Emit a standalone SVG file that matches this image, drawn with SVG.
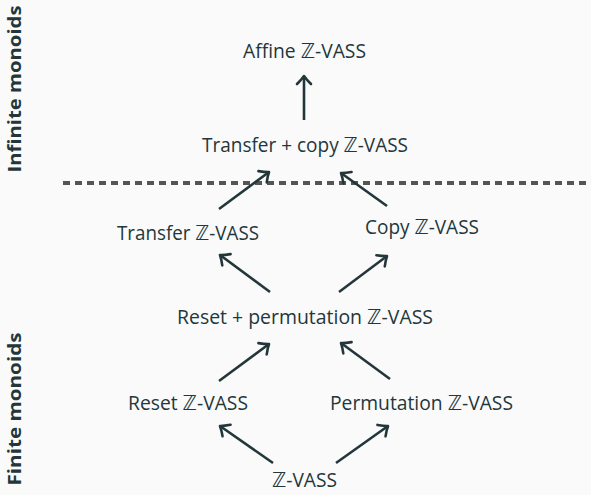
<svg xmlns="http://www.w3.org/2000/svg" width="591" height="495" viewBox="0 0 591 495">
  <defs>
    <marker id="head" markerUnits="userSpaceOnUse" markerWidth="20" markerHeight="20" refX="0" refY="0" viewBox="-12 -10 16 20" orient="auto">
      <path d="M-8,-7 Q-3,-2 0,0 Q-3,2 -8,7" fill="none" stroke="#23373b" stroke-width="2.6" stroke-linecap="round" stroke-linejoin="round"/>
    </marker>
    <style>
      .lbl { font-family: "Open Sans", "Liberation Sans", "DejaVu Sans", sans-serif; font-size: 20.5px; fill: #23373b; text-anchor: middle; }
      .side { font-family: "Open Sans", "Liberation Sans", sans-serif; font-size: 17px; font-weight: bold; fill: #23373b; text-anchor: middle; }
      .edge { fill: none; stroke: #23373b; stroke-width: 2.6; marker-end: url(#head); }
    </style>
  </defs>
  <rect width="591" height="495" fill="#fafafa"/>

  <!-- section captions -->
  <text class="side" transform="translate(21,89) rotate(-90)" textLength="167" lengthAdjust="spacingAndGlyphs">Infinite monoids</text>
  <text class="side" transform="translate(21,409) rotate(-90)" textLength="153" lengthAdjust="spacingAndGlyphs">Finite monoids</text>

  <!-- boundary between finite and infinite monoids -->
  <line x1="63" y1="183" x2="591" y2="183" stroke="#555555" stroke-width="4" stroke-dasharray="7 5"/>

  <g id="affine"><text class="lbl" x="304.5" y="58" textLength="123" lengthAdjust="spacingAndGlyphs">Affine ℤ-VASS</text></g>
  <g id="transfer-copy"><text class="lbl" x="305" y="152" textLength="206" lengthAdjust="spacingAndGlyphs">Transfer + copy ℤ-VASS</text></g>
  <g id="transfer"><text class="lbl" x="188" y="240" textLength="142" lengthAdjust="spacingAndGlyphs">Transfer ℤ-VASS</text></g>
  <g id="copy"><text class="lbl" x="422" y="234" textLength="114" lengthAdjust="spacingAndGlyphs">Copy ℤ-VASS</text></g>
  <g id="reset-perm"><text class="lbl" x="305" y="324" textLength="256" lengthAdjust="spacingAndGlyphs">Reset + permutation ℤ-VASS</text></g>
  <g id="reset"><text class="lbl" x="188" y="410" textLength="120" lengthAdjust="spacingAndGlyphs">Reset ℤ-VASS</text></g>
  <g id="perm"><text class="lbl" x="421.5" y="410" textLength="183" lengthAdjust="spacingAndGlyphs">Permutation ℤ-VASS</text></g>
  <g id="zvass"><text class="lbl" x="304.5" y="487" textLength="65" lengthAdjust="spacingAndGlyphs">ℤ-VASS</text></g>

  <g id="edges">
    <line class="edge" x1="304" y1="120" x2="304" y2="76"/>
    <line class="edge" x1="219" y1="209" x2="269" y2="172"/>
    <line class="edge" x1="387" y1="206" x2="341" y2="173"/>
    <line class="edge" x1="270" y1="292" x2="220" y2="255"/>
    <line class="edge" x1="339" y1="292" x2="387" y2="256"/>
    <line class="edge" x1="219" y1="381" x2="269" y2="344"/>
    <line class="edge" x1="390" y1="379" x2="341" y2="343"/>
    <line class="edge" x1="273" y1="463" x2="220" y2="426"/>
    <line class="edge" x1="336" y1="463" x2="388" y2="426"/>
  </g>
</svg>
